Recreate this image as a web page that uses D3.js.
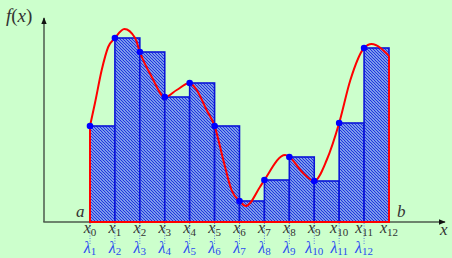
<!DOCTYPE html>
<html>
<head>
<meta charset="utf-8">
<script src="https://cdn.jsdelivr.net/npm/d3@7"></script>
<style>
html,body{margin:0;padding:0;background:#ccffcc;}
svg{display:block;}
</style>
</head>
<body>
<svg id="chart" width="452" height="258"></svg>
<script>
// ---- data ----
const nodeT = [0,1,2,3,4,5,6,7,8,9,10,11,12];
const nodeLabels = ["0","1","2","3","4","5","6","7","8","9","10","11","12"];
const fAtNodes = [9.6, 18.4, 17.0, 12.5, 13.9, 9.6, 2.1, 4.2, 6.5, 4.1, 9.9, 17.4, 16.6];
const lambdaLabels = ["1","2","3","4","5","6","7","8","9","10","11","12"];
// curve samples (t, f)
const curveT = [0, 0.2, 0.47, 0.73, 1, 1.38, 1.81, 2, 2.48, 3, 3.48, 4, 4.28, 4.68, 5, 5.35, 5.68, 6, 6.26, 6.82, 7, 7.83, 8, 8.55, 9, 9.5, 10, 10.45, 11, 11.3, 12];
const curveV = [9.6, 11.9, 15.2, 17.5, 18.4, 19.3, 18.4, 17.0, 14.5, 12.5, 13.2, 13.9, 13.2, 11.2, 9.6, 6.2, 3.2, 2.1, 1.6, 3.5, 4.2, 6.7, 6.5, 4.9, 4.1, 6.2, 9.9, 14.2, 17.4, 17.8, 16.6];

// ---- layout ----
const svg = d3.select("#chart");
const x = d3.scaleLinear().domain([0, 12]).range([90, 389]);
const y = d3.scaleLinear().domain([0, 20]).range([222, 22]);
const axisX0 = 44, axisXEnd = 445, axisYTop = 18;
const blue = "#0a14d8", red = "#ff0000", axisCol = "#4d5a4d";

const defs = svg.append("defs");
const pat = defs.append("pattern").attr("id","hatch").attr("patternUnits","userSpaceOnUse")
  .attr("width",3).attr("height",3);
pat.append("rect").attr("width",3).attr("height",3).attr("fill","#c4ecf2");
pat.append("path").attr("d","M-1,-1 L4,4 M-1,2 L1,4 M2,-1 L4,1")
  .attr("stroke","#1f33e0").attr("stroke-width",1.3);
const mk = defs.append("marker").attr("id","arr").attr("viewBox","0 0 10 10")
  .attr("refX",9).attr("refY",5).attr("markerWidth",7).attr("markerHeight",7)
  .attr("markerUnits","userSpaceOnUse").attr("orient","auto");
mk.append("path").attr("d","M0,1 L10,5 L0,9 Z").attr("fill","#111");

// bars (left endpoint rule)
const bars = d3.range(12).map(i => ({x0: nodeT[i], x1: nodeT[i+1], v: fAtNodes[i]}));
svg.append("g").selectAll("rect").data(bars).join("rect")
  .attr("x", d => x(d.x0)).attr("y", d => y(d.v))
  .attr("width", d => x(d.x1) - x(d.x0)).attr("height", d => y(0) - y(d.v))
  .attr("fill","url(#hatch)").attr("stroke",blue).attr("stroke-width",1.6);

// dotted lines under nodes (lambda positions)
svg.append("g").selectAll("line").data(d3.range(12)).join("line")
  .attr("x1", i => x(nodeT[i])).attr("x2", i => x(nodeT[i]))
  .attr("y1", y(0)+1).attr("y2", 245)
  .attr("stroke","#3a5cf0").attr("stroke-width",0.8).attr("stroke-dasharray","1,1.5");

// axes
svg.append("line").attr("x1",axisX0).attr("y1",y(0)).attr("x2",axisX0).attr("y2",axisYTop)
  .attr("stroke",axisCol).attr("stroke-width",1.5).attr("marker-end","url(#arr)");
svg.append("line").attr("x1",axisX0-0.7).attr("y1",y(0)).attr("x2",axisXEnd).attr("y2",y(0))
  .attr("stroke",axisCol).attr("stroke-width",1.5).attr("marker-end","url(#arr)");

// red boundary
svg.append("path")
  .attr("d", `M${x(0)},${y(fAtNodes[0])} L${x(0)},${y(0)} L${x(12)},${y(0)} L${x(12)},${y(fAtNodes[12])}`)
  .attr("fill","none").attr("stroke",red).attr("stroke-width",2);

// curve
const line = d3.line().x(d => x(d[0])).y(d => y(d[1])).curve(d3.curveMonotoneX);
svg.append("path").datum(curveT.map((t,i) => [t, curveV[i]]))
  .attr("d", line).attr("fill","none").attr("stroke",red).attr("stroke-width",2);

// dots
svg.append("g").selectAll("circle").data(d3.range(12)).join("circle")
  .attr("cx", i => x(nodeT[i])).attr("cy", i => y(fAtNodes[i])).attr("r",3.3).attr("fill","#0000ff");

// labels
const serif = "'Liberation Serif', 'DejaVu Serif', serif";
const xl = svg.append("g").attr("font-family",serif).attr("fill","#333");
nodeT.forEach((t,i) => {
  const tx = xl.append("text").attr("x", x(t)).attr("y", 233).attr("text-anchor","middle");
  tx.append("tspan").attr("font-style","italic").attr("font-size",16).text("x");
  tx.append("tspan").attr("font-size",11).attr("dy",2.5).text(nodeLabels[i]);
});
const ll = svg.append("g").attr("font-family",serif).attr("fill","#2a4cf0");
lambdaLabels.forEach((s,i) => {
  const tx = ll.append("text").attr("x", x(nodeT[i])).attr("y", 252.5).attr("text-anchor","middle");
  tx.append("tspan").attr("font-style","italic").attr("font-size",16).text("λ");
  tx.append("tspan").attr("font-size",11).attr("dy",2.5).text(s);
});

svg.append("text").attr("x",76).attr("y",217).attr("font-family",serif).attr("font-style","italic")
  .attr("font-size",17).attr("fill","#333").text("a");
svg.append("text").attr("x",397).attr("y",217).attr("font-family",serif).attr("font-style","italic")
  .attr("font-size",17).attr("fill","#333").text("b");
svg.append("text").attr("x",440).attr("y",235).attr("font-family",serif).attr("font-style","italic")
  .attr("font-size",17).attr("fill","#333").text("x");
const fl = svg.append("text").attr("x",6).attr("y",22).attr("font-family",serif).attr("font-size",19).attr("fill","#333");
fl.append("tspan").attr("font-style","italic").text("f");
fl.append("tspan").text("(");
fl.append("tspan").attr("font-style","italic").text("x");
fl.append("tspan").text(")");
</script>
</body>
</html>
